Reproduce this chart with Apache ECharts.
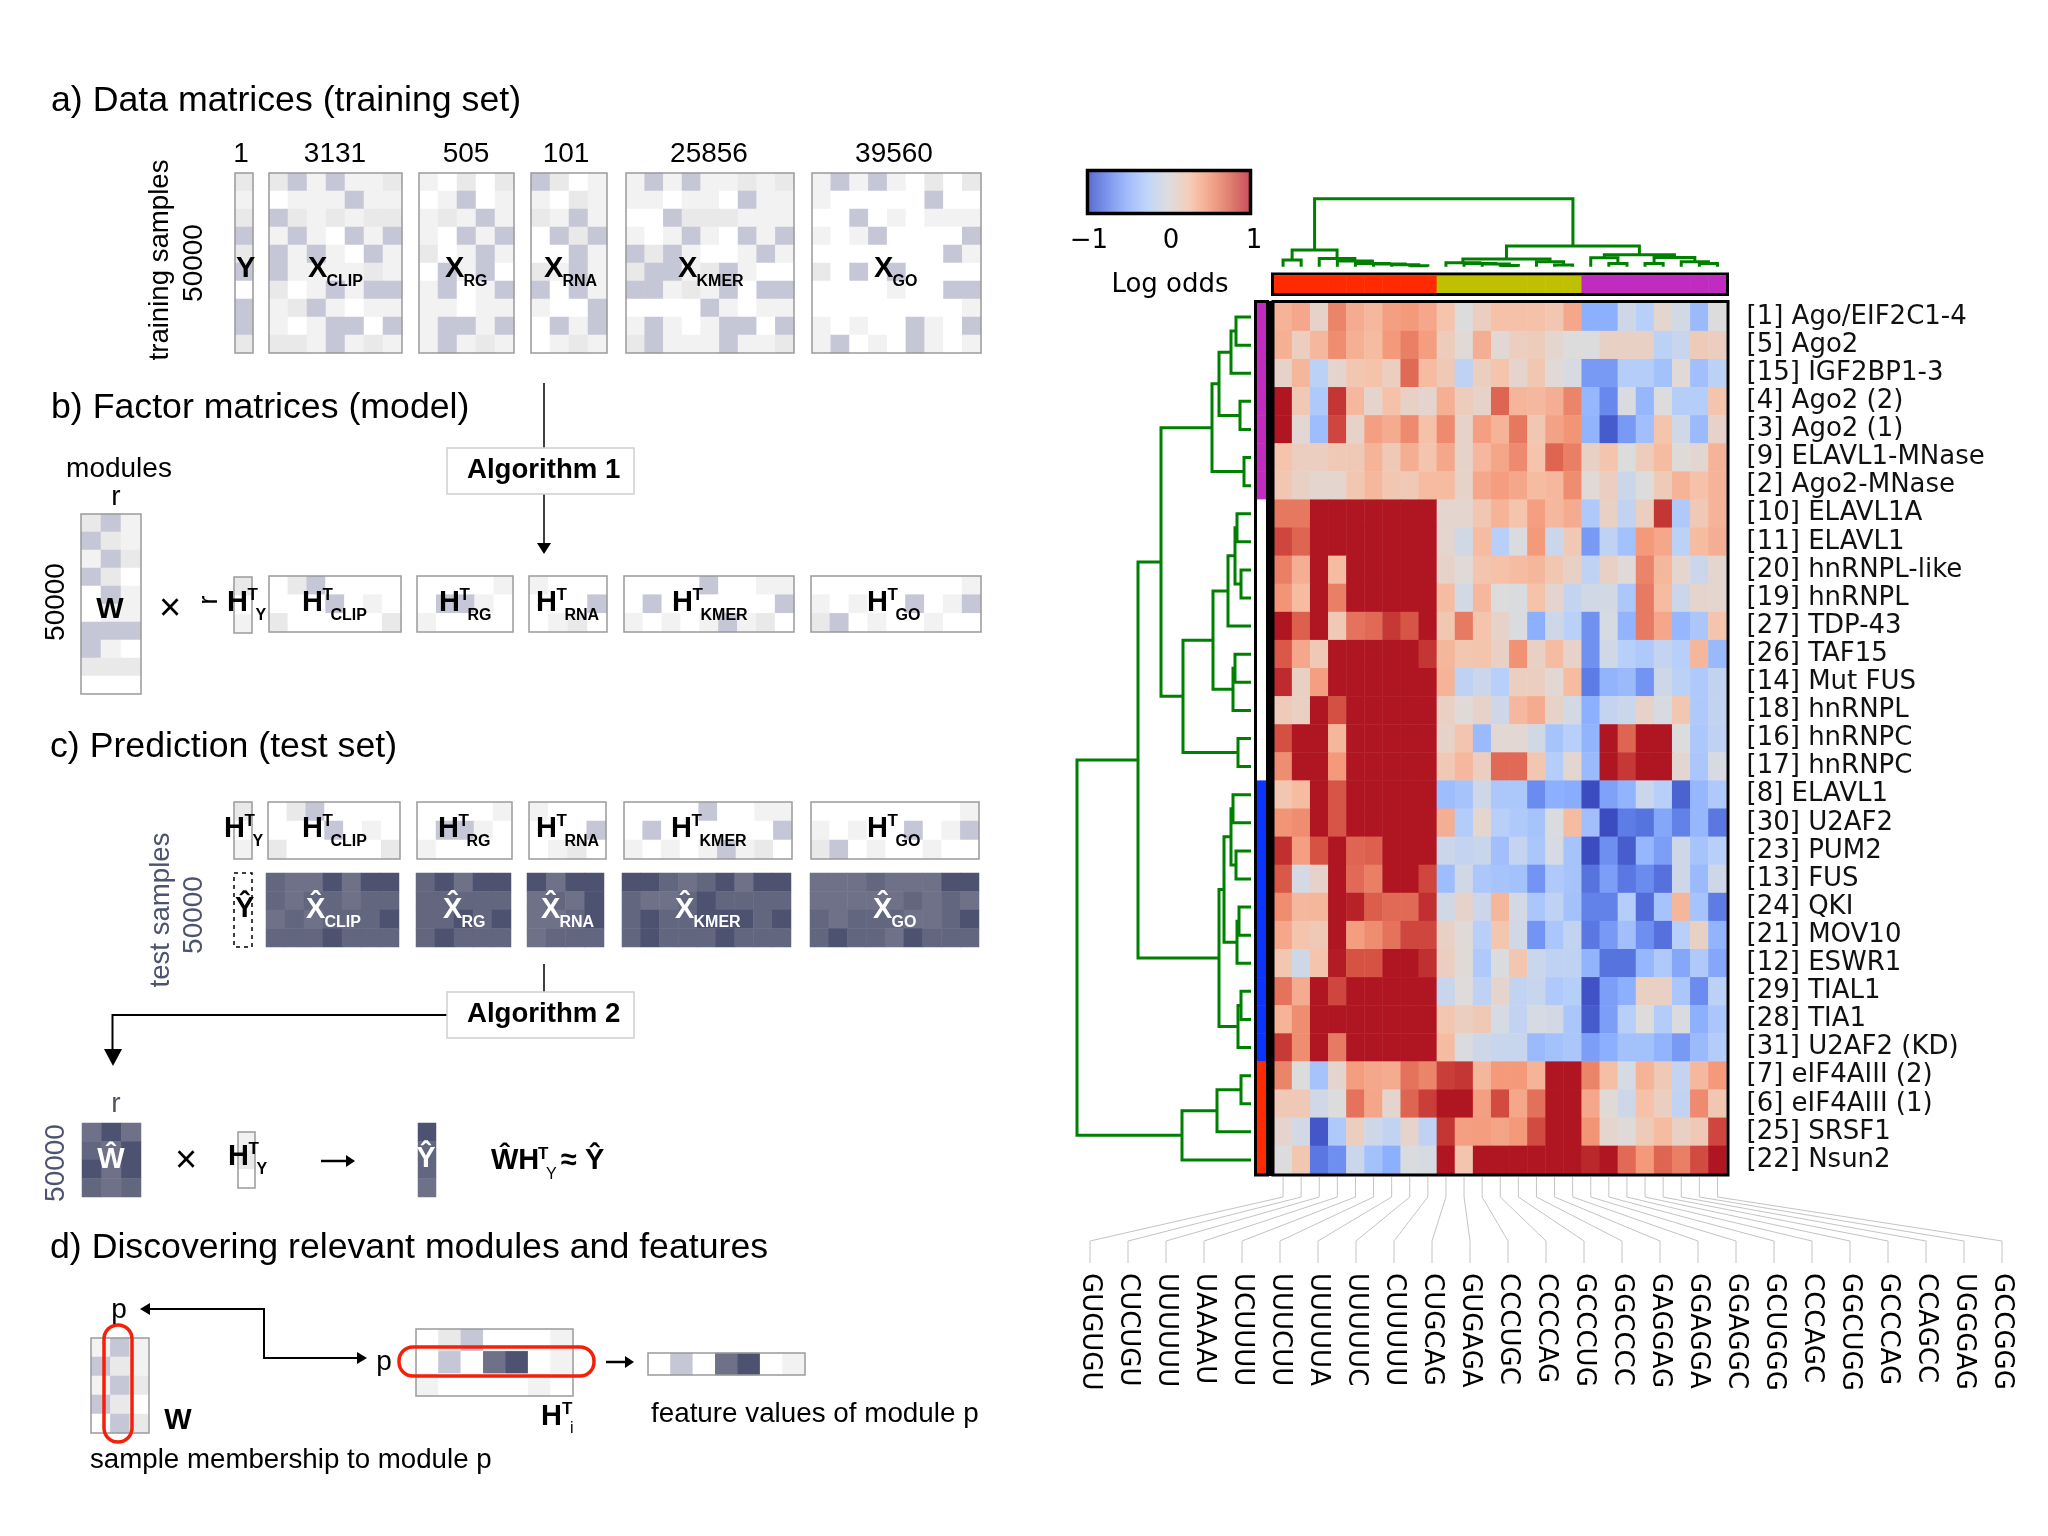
<!DOCTYPE html>
<html><head><meta charset="utf-8">
<style>html,body{margin:0;padding:0;background:#fff}#c{width:2048px;height:1536px}</style>
<script src="https://cdn.jsdelivr.net/npm/echarts@6/dist/echarts.min.js"></script>
</head><body><div id="c"></div>
<script>
// ---------- heatmap data ----------
const rowLabels = ['[1] Ago/EIF2C1-4','[5] Ago2','[15] IGF2BP1-3','[4] Ago2 (2)','[3] Ago2 (1)','[9] ELAVL1-MNase','[2] Ago2-MNase','[10] ELAVL1A','[11] ELAVL1','[20] hnRNPL-like','[19] hnRNPL','[27] TDP-43','[26] TAF15','[14] Mut FUS','[18] hnRNPL','[16] hnRNPC','[17] hnRNPC','[8] ELAVL1','[30] U2AF2','[23] PUM2','[13] FUS','[24] QKI','[21] MOV10','[12] ESWR1','[29] TIAL1','[28] TIA1','[31] U2AF2 (KD)','[7] eIF4AIII (2)','[6] eIF4AIII (1)','[25] SRSF1','[22] Nsun2'];
const colLabels = ['GUGUGU','CUCUGU','UUUUUU','UAAAAU','UCUUUU','UUUCUU','UUUUUA','UUUUUC','CUUUUU','CUGCAG','GUGAGA','CCCUGC','CCCCAG','GCCCUG','GGCCCC','GAGGAG','GGAGGA','GGAGGC','GCUGGG','CCCAGC','GGCUGG','GCCCAG','CCAGCC','UGGGAG','GCCGGG'];
const logOdds = [
[.35,.42,.1,.58,.4,.32,.47,.5,.42,.25,0,.15,.27,.27,.27,.22,.42,-.5,-.5,-.1,-.25,.07,-.07,-.42,0],
[.37,.15,.32,.55,.37,.3,.5,.6,.48,.17,.03,.38,.05,.15,.17,.07,0,0,.12,.12,.12,-.22,-.15,.18,.15],
[.1,.33,-.22,.08,.22,.26,.15,.68,.3,.2,-.2,.15,.25,.08,.22,.03,-.05,-.62,-.62,-.27,-.27,-.37,.03,-.38,-.22],
[1,.2,-.3,.88,.32,.08,.27,.12,.08,.37,.17,.1,.7,.34,.32,.38,.58,-.45,-.72,-.02,-.45,0,-.27,-.27,.25],
[1,.05,-.4,.82,.1,.47,.4,.56,.27,.56,.1,.47,.35,.63,.22,.45,.52,-.47,-.93,-.62,-.38,.25,-.08,-.42,.1],
[.25,.15,.15,.2,.2,.35,.2,.38,.24,.42,.1,.32,.43,.56,.25,.7,.6,.12,.25,0,.17,.3,.02,.06,.35],
[.22,.12,.07,.07,.22,.32,.22,.2,.3,.3,.1,.42,.48,.42,.3,.32,.55,.03,.15,-.12,0,.18,.35,.27,.35],
[.63,.63,1,1,1,1,1,1,1,.07,.07,.22,.35,.25,.47,.32,.4,-.3,.12,-.18,.15,.88,-.3,.2,.35],
[.82,.7,1,1,1,1,1,1,1,.07,-.08,.3,-.25,-.03,.5,-.12,.2,-.62,-.2,-.37,.5,.42,-.22,.3,.38],
[.6,.38,1,.3,1,1,1,1,1,.1,.02,.24,.27,.3,.33,.22,.12,-.2,.12,.02,.58,.33,.07,-.12,.07],
[.52,.3,1,.6,1,1,1,1,1,.3,-.07,.32,0,-.02,.26,.08,-.17,-.08,-.07,-.32,.62,.3,-.12,.08,.07],
[1,.72,1,.2,.65,.68,.87,.76,1,.22,.62,.25,.1,-.03,-.5,-.1,-.24,-.67,-.05,-.47,.62,.42,-.45,-.33,.25],
[.75,.42,.2,1,1,1,1,1,.88,.33,.22,.25,.12,.53,.12,.3,.1,-.67,-.08,-.25,-.3,-.17,-.25,.33,-.43],
[.92,.13,.47,1,1,1,1,1,1,.35,-.2,-.12,-.25,.15,.15,.05,.3,-.78,-.47,-.42,-.65,-.1,-.22,-.3,-.18],
[.18,.13,1,.78,1,1,1,1,1,.13,.02,.1,-.1,.32,.4,.1,-.07,-.5,-.17,-.13,.1,-.04,.22,-.3,-.18],
[.78,1,1,.33,1,1,1,1,1,.1,.24,-.42,.05,.05,-.08,-.35,-.25,-.47,1,.7,1,1,0,-.32,-.2],
[.55,1,1,.5,1,1,1,1,1,.2,.32,.15,.68,.68,.22,-.27,.06,-.42,1,.87,1,1,.06,-.33,-.04],
[.22,.3,1,.76,1,1,1,1,1,-.4,-.35,-.1,-.32,-.32,-.7,-.5,-.52,-1,-.58,-.47,-.13,-.25,-.9,-.45,-.3],
[.52,.55,1,.76,1,1,1,1,1,.38,-.28,.07,-.25,-.3,-.35,-.03,.3,-.38,-1,-.78,-.82,-.55,-.75,-.45,-.8],
[.9,.47,.77,1,.7,.72,1,1,1,-.12,-.17,-.15,-.38,-.17,-.33,-.05,-.35,-1,-.68,-.92,-.45,-.6,-.1,-.35,-.25],
[.75,-.06,.1,1,.68,.6,1,1,.82,-.4,-.08,-.32,-.35,-.37,-.65,-.3,-.35,-.82,-.6,-.8,-.7,-.83,-.1,-.42,-.1],
[.55,.32,.33,1,.96,.73,.68,.68,.9,-.09,.1,-.12,.33,-.07,-.33,-.2,-.37,-.75,-.75,-.27,-.85,-.35,.33,-.35,-.78],
[.42,.25,.2,1,.48,.55,.65,.82,.82,.12,.02,-.25,.23,-.08,-.65,-.33,-.18,-.8,-.62,-.38,-.68,-.83,-.25,.12,-.47],
[.22,-.1,.25,.98,.77,.77,1,1,.9,.15,.02,-.3,-.03,.23,-.13,-.2,-.2,-.47,-.82,-.82,-.45,-.3,-.55,-.3,-.55],
[.65,.4,1,.82,1,1,1,1,1,-.14,.01,-.2,.08,-.18,-.15,-.3,-.26,-.97,-.6,-.5,.13,.12,-.33,-.7,-.22],
[.35,.55,1,1,1,1,1,1,1,.23,.15,.2,-.05,-.18,-.05,-.07,-.33,-.93,-.6,-.25,0,-.28,-.02,-.5,-.33],
[.86,.55,1,.62,1,1,1,1,1,.3,-.03,-.1,-.15,-.15,-.42,-.37,-.33,-.6,-.5,-.37,-.37,-.47,-.62,-.42,-.28],
[.58,0,-.35,.08,.48,.42,.4,.65,.58,.85,.88,.33,.5,.5,.35,1,1,.58,.28,-.05,.35,.2,-.17,.32,.5],
[.2,.2,-.08,0,.65,.43,.08,.7,.85,1,1,.47,.8,.42,.66,1,1,.42,.03,-.1,.27,.14,-.18,.56,.22],
[.08,-.07,-.95,-.3,.15,-.1,-.18,.09,-.2,.88,.47,.48,.44,.5,.8,1,1,.52,.07,.02,.18,.3,.12,.2,.82],
[0,.22,-.8,-.68,-.13,-.37,-.5,-.02,-.05,1,.24,1,1,1,1,1,1,.93,1,.68,.5,.7,.6,.8,1]
];
const rowGroups = [2,2,2,2,2,2,2,3,3,3,3,3,3,3,3,3,3,4,4,4,4,4,4,4,4,4,4,0,0,0,0];
const colGroups = [0,0,0,0,0,0,0,0,0,1,1,1,1,1,1,1,1,2,2,2,2,2,2,2,2];
const rowTree = [174,[113,[90,[39,[32,[20,[15,0,1],2],[11,3,4]],[7,5,6]],[68,[38,[23,[16,[14,7,8],[10,9,10]],11],[18,[16,12,13],14]],[13,15,16]]],[32,[27,[20,[18,17,18],[15,19,20]],[14,[12,21,22],23]],[13,[10,24,25],26]]],[69,[34,[10,27,28],29],30]];
const colTree = [68,[16.7,[6.7,0,1],[8.3,2,[5.7,3,[3.3,4,[2.7,5,[2,6,[1,7,8]]]]]]],[20.7,[7.7,[4,9,[3.3,10,[2.7,11,[1.3,12,13]]]],[5,14,[1.7,15,16]]],[12,[9,17,[3.3,18,19]],[9.3,[3.3,20,21],[5,22,[3.3,23,24]]]]]];

// ---------- schematic matrices (shade levels) ----------
const mY=[[2],[1],[2],[3],[2],[3],[0],[3],[3],[2]];
const mXclip=[[2,3,1,3,1,1,2],[0,1,1,1,3,1,1],[3,2,1,2,1,2,2],[1,3,1,0,3,1,3],[3,1,3,1,0,3,1],[3,1,1,1,1,2,1],[2,0,1,3,1,3,3],[1,2,3,1,0,1,1],[1,0,1,3,3,0,3],[2,2,1,3,1,2,1]];
const mXrg=[[1,0,2,0,2],[0,1,3,0,1],[1,2,1,3,1],[1,0,3,1,3],[2,0,1,3,1],[0,3,1,3,0],[1,3,0,1,3],[1,1,0,1,1],[1,3,3,1,3],[1,3,1,2,1]];
const mXrna=[[3,2,0,1],[1,0,2,1],[2,1,3,1],[0,3,2,3],[0,0,3,1],[2,1,3,1],[3,0,3,1],[1,0,0,3],[0,3,1,3],[0,1,2,1]];
const mXkmer=[[1,3,1,3,1,1,2,1,2],[1,1,0,1,1,0,3,1,1],[0,0,3,2,2,2,1,1,1],[1,0,1,3,1,0,3,1,3],[3,2,3,1,0,0,1,3,1],[2,3,3,1,2,3,1,0,0],[3,3,1,2,1,3,0,3,3],[0,0,0,0,3,1,0,1,1],[1,3,1,0,1,3,3,0,3],[2,3,1,1,1,3,1,1,2]];
const mXgo=[[1,3,1,3,1,0,2,0,2],[1,0,0,0,0,0,3,0,0],[0,0,3,0,1,0,1,1,1],[1,0,1,3,0,0,0,0,3],[0,0,0,0,0,0,0,3,1],[2,0,3,0,3,0,0,0,0],[0,0,0,0,1,0,0,3,3],[0,0,0,0,0,0,0,0,1],[1,0,1,0,0,3,1,0,3],[1,3,0,1,0,3,1,0,1]];
const mW=[[2,3,1],[3,2,1],[1,3,2],[3,2,0],[0,3,1],[0,1,1],[3,3,3],[3,1,0],[2,2,2],[0,0,0]];
const mHy=[[2],[0],[1]];
const mHclip=[[0,2,3,0,0,0,0],[0,0,0,3,0,1,0],[2,0,0,0,0,0,2]];
const mHrg=[[0,0,0,0,1],[0,3,3,1,0],[1,0,0,0,0]];
const mHrna=[[1,0,0,0],[0,0,0,3],[0,1,2,0]];
const mHkmer=[[0,0,0,0,3,0,0,1,1],[0,3,0,0,0,0,0,0,3],[1,0,1,0,1,3,1,2,0]];
const mHgo=[[0,0,0,0,0,0,0,0,1],[1,0,1,0,0,3,0,1,3],[2,3,0,1,0,0,1,0,0]];
const mHatClip=[[6,4,4,5,4,5,5],[6,4,6,6,4,6,6],[4,6,4,6,6,6,5],[6,6,6,5,6,6,6]];
const mHatRg=[[6,5,4,5,5],[6,6,6,6,6],[6,6,5,6,5],[6,5,6,6,6]];
const mHatRna=[[5,4,5,5],[4,6,4,5],[4,4,6,5],[4,6,6,6]];
const mHatKmer=[[5,5,6,4,6,5,4,5,5],[6,4,4,6,5,6,6,6,6],[6,5,6,6,5,5,5,6,5],[6,5,6,6,6,5,6,6,6]];
const mHatGo=[[4,4,4,6,4,4,4,5,5],[4,4,4,4,4,6,4,6,4],[6,4,6,6,6,4,4,6,5],[6,5,6,6,4,5,6,6,6]];
const mHatW=[[4,5,4],[6,4,5],[5,4,5],[6,4,6]];
const mHy2=[[1],[2],[0]];
const mHatY=[[5],[6],[6],[4]];
const mWd=[[1,3,1],[3,2,1],[1,3,2],[3,2,0],[0,3,2]];
const mHi=[[0,2,3,0,0,0,1],[0,3,0,4,5,0,1],[1,0,0,0,0,1,0]];
const mFeat=[[0,3,0,4,5,0,1]];

// ---------- styling / layout ----------
const SANS='"Liberation Sans"', DJ='"DejaVu Sans"';
const NAVY='#4d5270';
const shadeColors=['#ffffff','#f2f2f2','#e9e9e9','#c6c7d6','#6f7189','#4d5270','#62667f'];
const groupColors=['#ff2a00','#bfc000','#bf2cbf','#ffffff','#0b35ff'];
const coolwarm=['#3b4cc0','#6282ea','#8db0fe','#b8d0f9','#dddcdc','#f5c4ac','#f49a7b','#d95847','#b01622'];
const coolwarmBar=['#5a6dd0','#7f97ee','#a3bdfc','#c4d7f8','#dddcdc','#f5cdb9','#f4a88e','#e07f6f','#c9505c'];

const panels=[ // [matrix,left,top,width,height,frame]
 [mY,235,173,18,180,1],[mXclip,269,173,133,180,1],[mXrg,419,173,95,180,1],[mXrna,531,173,76,180,1],[mXkmer,626,173,168,180,1],[mXgo,812,173,169,180,1],
 [mW,81,514,60,180,1],
 [mHy,234,577,18,56,1],[mHclip,269,576,132,56,1],[mHrg,417,576,96,56,1],[mHrna,529,576,78,56,1],[mHkmer,624,576,170,56,1],[mHgo,811,576,170,56,1],
 [mHy,234,802,18,57,1],[mHclip,268,802,132,57,1],[mHrg,417,802,95,57,1],[mHrna,529,802,77,57,1],[mHkmer,624,802,168,57,1],[mHgo,811,802,168,57,1],
 [mHatClip,266,873,133,74,0],[mHatRg,416,873,95,74,0],[mHatRna,527,873,77,74,0],[mHatKmer,622,873,169,74,0],[mHatGo,810,873,169,74,0],
 [mHatW,82,1123,59,74,0],[mHy2,238,1132,17,56,1],[mHatY,418,1123,18,74,0],
 [mWd,91,1338,58,95,1],[mHi,416,1329,157,67,1],[mFeat,648,1353,157,22,1]
];

const grids=[],xAxes=[],yAxes=[],series=[],gfx=[];
function addGrid(l,t,w,h,xa,ya){grids.push({left:l,top:t,width:w,height:h,containLabel:false});xa.gridIndex=grids.length-1;ya.gridIndex=grids.length-1;xAxes.push(xa);yAxes.push(ya);return grids.length-1;}
const idx=n=>Array.from({length:n},(_,i)=>i);
const cell=m=>{const d=[];m.forEach((r,y)=>r.forEach((v,x)=>d.push([x,y,v])));return d;};
const hidX=n=>({type:'category',data:idx(n),show:false,boundaryGap:true});
const hidY=n=>({type:'category',data:idx(n),show:false,boundaryGap:true,inverse:true});
const heat=(g,data)=>({type:'heatmap',xAxisIndex:g,yAxisIndex:g,data,silent:true,progressive:0,animation:false,emphasis:{disabled:true}});

// main heatmap
const HX=1274,HY=303,HW=452.5,HH=871;
let g=addGrid(HX,HY,HW,HH,{type:'category',data:colLabels,show:false},{type:'category',data:rowLabels,inverse:true,position:'right',axisLine:{show:false},axisTick:{show:false},axisLabel:{show:true,interval:0,margin:20,fontFamily:DJ,fontSize:26,color:'#111'}});
series.push(heat(g,cell(logOdds)));
const mainSeries=[0];

// cluster bars
g=addGrid(1274,276,452.5,17,hidX(25),hidY(1));
series.push(heat(g,colGroups.map((v,i)=>[i,0,v])));
g=addGrid(1257,303,10,871,hidX(1),hidY(31));
series.push(heat(g,rowGroups.map((v,i)=>[0,i,v])));
const groupSeries=[1,2];

// schematic matrices
const shadeSeries=[];
panels.forEach(p=>{
  const m=p[0];
  const gi=addGrid(p[1],p[2],p[3],p[4],hidX(m[0].length),hidY(m.length));
  shadeSeries.push(series.length);
  series.push(heat(gi,cell(m)));
  if(p[5]) gfx.push({type:'rect',z:15,silent:true,shape:{x:p[1],y:p[2],width:p[3],height:p[4]},style:{fill:'none',stroke:'#9b9b9b',lineWidth:1.5}});
});

// bottom k-mer labels, spread apart from the heatmap columns
const LX=1071,LW=950;
g=addGrid(LX,1268,LW,2,{type:'category',data:colLabels,axisLine:{show:false},axisTick:{show:false},axisLabel:{show:true,interval:0,rotate:-90,margin:3,fontFamily:DJ,fontSize:26,color:'#000'}},{type:'value',show:false});

// ---------- graphics helpers ----------
const txt=(x,y,s,o={})=>({type:'text',x:x,y:y+(o.rot?0:1.5),rotation:o.rot||0,z:o.z||20,silent:true,style:{text:s,fontFamily:o.ff||SANS,fontSize:o.fs||28,fontWeight:o.b?'bold':'normal',fill:o.c||'#000',align:o.al||'left',verticalAlign:'middle'}});
const line=(pts,stroke,w,z)=>({type:'polyline',z:z||16,silent:true,shape:{points:pts},style:{fill:'none',stroke:stroke||'#000',lineWidth:w||1.5}});
const tri=(pts,c)=>({type:'polygon',z:17,silent:true,shape:{points:pts},style:{fill:c||'#000'}});
const rect=(x,y,w,h,o={})=>({type:'rect',z:o.z||16,silent:true,shape:{x,y,width:w,height:h,r:o.r||0},style:{fill:o.fill||'none',stroke:o.stroke||null,lineWidth:o.lw||1,lineDash:o.dash||null}});
const add=(...e)=>gfx.push(...e);
function math(x,y,base,sup,sub,c,w){
  c=c||'#000'; w=w||(base[0]==='H'?20.5:18.5);
  add(txt(x,y,base,{b:1,fs:29,c}));
  if(sup) add(txt(x+w,y-7,sup,{b:1,fs:17,c}));
  if(sub) add(txt(x+w+(sup?8:0),y+13,sub,{b:1,fs:16,c}));
}

// dendrograms
function drawTree(node,leafPos,base,sign,horizontal){
  if(typeof node==='number') return {p:leafPos(node),h:0};
  const a=drawTree(node[1],leafPos,base,sign,horizontal), b=drawTree(node[2],leafPos,base,sign,horizontal), h=node[0];
  const P=(p,hh)=>horizontal?[base-hh,p]:[p,base-hh];
  add(line([P(a.p,a.h),P(a.p,h),P(b.p,h),P(b.p,b.h)],'#008000',3,18));
  return {p:(a.p+b.p)/2,h};
}
drawTree(rowTree,i=>HY+(i+.5)*HH/31,1251,1,true);
drawTree(colTree,i=>HX+(i+.5)*HW/25,266.7,1,false);

// fan connectors
colLabels.forEach((_,i)=>{
  const x0=HX+(i+.5)*HW/25, x1=LX+(i+.5)*LW/25;
  add(line([[x0,1177],[x0,1197],[x1,1241],[x1,1263]],'#c4c4c4',1,5));
});

// heatmap frames
add(rect(1272.5,274,455,20.5,{stroke:'#000',lw:3}));
add(rect(1273,301.5,455,873.5,{stroke:'#000',lw:3}));
add(rect(1267,301,7,875,{fill:'#000'}));
add(rect(1255.5,301.5,12,873.5,{stroke:'#000',lw:3}));
// colour bar
add(rect(1087.5,170.5,163,43,{stroke:'#000',lw:3.5}));
add(txt(1089,240,'\u22121',{ff:DJ,fs:26,al:'center'}),txt(1171,240,'0',{ff:DJ,fs:26,al:'center'}),txt(1254,240,'1',{ff:DJ,fs:26,al:'center'}),txt(1170,284,'Log odds',{ff:DJ,fs:26,al:'center'}));

// panel titles
add(txt(51,100,'a) Data matrices (training set)',{fs:35.7}),txt(51,407,'b) Factor matrices (model)',{fs:35.7}),txt(50,746,'c) Prediction (test set)',{fs:35.7}),txt(50,1247,'d) Discovering relevant modules and features',{fs:35.7}));

// a)
[[241,'1'],[335,'3131'],[466,'505'],[566,'101'],[709,'25856'],[894,'39560']].forEach(a=>add(txt(a[0],153,a[1],{al:'center',fs:28})));
add(txt(160,260,'training samples',{rot:Math.PI/2,al:'center',fs:27.6}),txt(194,263,'50000',{rot:Math.PI/2,al:'center',fs:28}));
math(236,267,'Y');
math(308,267,'X',null,'CLIP');math(445,267,'X',null,'RG');math(544,267,'X',null,'RNA');math(678,267,'X',null,'KMER');math(874,267,'X',null,'GO');

// b)
add(txt(119,468,'modules',{al:'center'}),txt(116,496,'r',{al:'center'}),txt(56,602,'50000',{rot:Math.PI/2,al:'center',fs:28}));
add(txt(110,608,'W',{al:'center',b:1,fs:29}),txt(170,608,'\u00d7',{al:'center',fs:38}),txt(209,600,'r',{rot:Math.PI/2,al:'center'}));
math(227,601,'H','T','Y');math(302,601,'H','T','CLIP');math(439,601,'H','T','RG');math(536,601,'H','T','RNA');math(672,601,'H','T','KMER');math(867,601,'H','T','GO');
add(line([[544,383],[544,448]]),line([[544,494],[544,545]]),tri([[537,543],[551,543],[544,554]]));
add(rect(447,448,187,46,{fill:'#fff',stroke:'#cfcfcf',lw:1.5}),txt(467,469,'Algorithm 1',{b:1,fs:27.6}));

// c)
math(224,827,'H','T','Y');math(302,827,'H','T','CLIP');math(438,827,'H','T','RG');math(536,827,'H','T','RNA');math(671,827,'H','T','KMER');math(867,827,'H','T','GO');
add(rect(234,873,18,74,{stroke:'#000',lw:1.5,dash:[4,4]}),txt(235,907,'\u0176',{b:1,fs:29}));
math(306,908,'X\u0302',null,'CLIP','#fff',18.5);math(443,908,'X\u0302',null,'RG','#fff',18.5);math(541,908,'X\u0302',null,'RNA','#fff',18.5);math(675,908,'X\u0302',null,'KMER','#fff',18.5);math(873,908,'X\u0302',null,'GO','#fff',18.5);
add(txt(161,910,'test samples',{rot:Math.PI/2,al:'center',fs:27.6,c:NAVY}),txt(194,915,'50000',{rot:Math.PI/2,al:'center',fs:28,c:NAVY}));
add(line([[544,964],[544,992]]),line([[447,1015],[112.5,1015],[112.5,1050]],'#000',2),tri([[104,1049],[122,1049],[113,1066]]));
add(rect(447,992,187,46,{fill:'#fff',stroke:'#cfcfcf',lw:1.5}),txt(467,1013,'Algorithm 2',{b:1,fs:27.6}));
add(txt(116,1103,'r',{al:'center',c:NAVY}),txt(56,1163,'50000',{rot:Math.PI/2,al:'center',fs:28,c:NAVY}));
add(txt(111,1158,'\u0174',{al:'center',b:1,fs:29,c:'#fff'}),txt(186,1160,'\u00d7',{al:'center',fs:38}));
math(228,1155,'H','T','Y');
add(line([[321,1161],[348,1161]],'#000',2.5),tri([[346,1155],[346,1167],[355,1161]]));
add(txt(426,1157,'\u0176',{al:'center',b:1,fs:29,c:'#fff'}));
add(txt(491,1159,'\u0174H',{b:1,fs:29}),txt(538,1153,'T',{b:1,fs:17}),txt(546,1173,'Y',{fs:16}),txt(561,1159,'\u2248',{b:1,fs:29}),txt(585,1159,'\u0176',{b:1,fs:29}));

// d)
add(txt(119,1309,'p',{al:'center'}),txt(178,1419,'W',{al:'center',b:1,fs:29}),txt(90,1459,'sample membership to module p',{fs:27.7}));
add(txt(384,1361,'p',{al:'center'}),txt(541,1415,'H',{b:1,fs:29}),txt(562,1408,'T',{b:1,fs:17}),txt(570,1427,'i',{fs:16}),txt(651,1413,'feature values of module p',{fs:27.8}));
add(line([[148,1309],[264,1309],[264,1358],[360,1358]],'#000',2),tri([[140,1309],[150,1303],[150,1315]]),tri([[367,1358],[357,1352],[357,1364]]));
add(line([[606,1362],[626,1362]],'#000',2.5),tri([[634,1362],[625,1356],[625,1368]]));
add(rect(104,1325,28,117,{stroke:'#f5200a',lw:3.5,r:14}),rect(399,1347,195,29,{stroke:'#f5200a',lw:3.5,r:14}));

const chart=echarts.init(document.getElementById('c'),null,{renderer:'canvas',width:2048,height:1536});
chart.setOption({
  animation:false,backgroundColor:'#fff',
  grid:grids,xAxis:xAxes,yAxis:yAxes,series,
  visualMap:[
    {type:'continuous',show:false,seriesIndex:mainSeries,min:-1,max:1,calculable:false,inRange:{color:coolwarm}},
    {type:'continuous',seriesIndex:[],min:-1,max:1,calculable:false,orient:'horizontal',left:1088,top:171,itemWidth:42,itemHeight:162,padding:0,text:null,showLabel:false,inRange:{color:coolwarmBar}},
    {type:'piecewise',show:false,seriesIndex:groupSeries,pieces:groupColors.map((c,i)=>({value:i,color:c}))},
    {type:'piecewise',show:false,seriesIndex:shadeSeries,pieces:shadeColors.map((c,i)=>({value:i,color:c}))}
  ],
  graphic:{elements:gfx}
});
</script></body></html>
